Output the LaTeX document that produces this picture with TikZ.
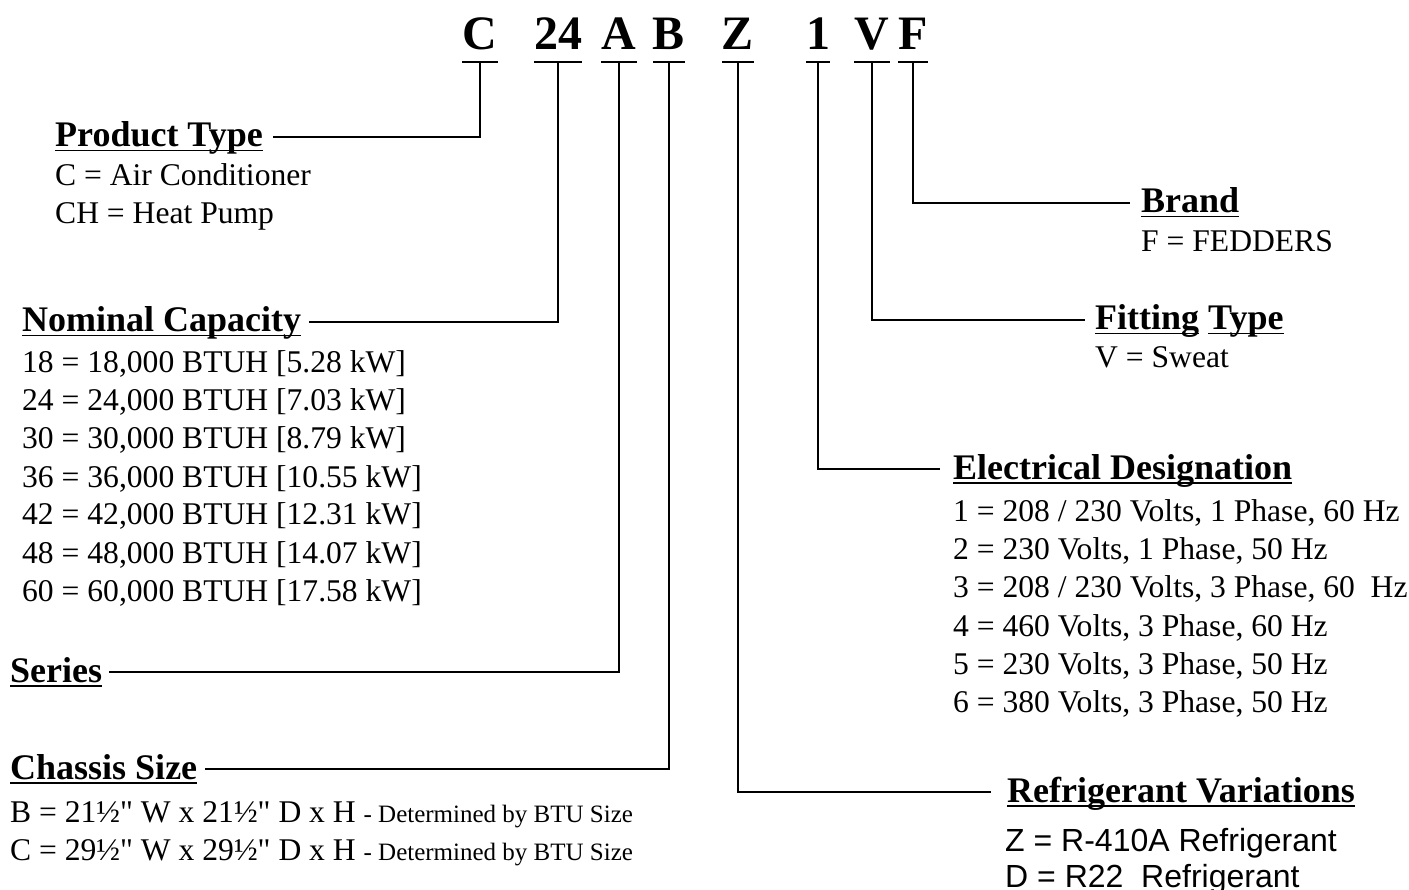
\documentclass[tikz,border=0pt]{standalone}
\usepackage{fontspec}
\setmainfont{Liberation Serif}
\newfontfamily\arialish{Liberation Sans}
\newcommand\undl[1]{\setbox0=\hbox{#1}\rlap{\rule[-4.5pt]{\wd0}{1.5pt}}\box0\relax}
\newcommand\inch{\XeTeXglyph\XeTeXcharglyph"22\relax}

\begin{document}
\begin{tikzpicture}[x=1pt,y=-1pt,
  code/.style={font=\fontsize{48}{48}\selectfont\bfseries, inner sep=0pt, anchor=base},
  head/.style={font=\fontsize{36}{40}\selectfont\bfseries, inner sep=0pt, anchor=base west},
  item/.style={font=\fontsize{31.6}{38}\selectfont, inner sep=0pt, anchor=base west},
  bar/.style={line width=2pt},
  lead/.style={line width=1.9pt},
  leadr/.style={line width=1.2pt}]
\useasboundingbox (0,0) rectangle (1409,890);

% model number letters with their bars
\foreach \n/\x in {C/480, 24/558, A/619, B/669, Z/738, 1/818, V/872, F/913}{
  \node[code] (c\n) at (\x,50) {\n};
  \draw[bar] ([yshift=-12pt]c\n.base west) -- ([yshift=-12pt]c\n.base east);
  \coordinate (t\n) at ([yshift=-12pt]c\n.base);
}

% left side
\node[head] (ptype) at (55,147) {\undl{Product Type}};
\node[item] (pt0) at (55,186) {C = Air Conditioner};
\node[item] (pt1) at (55,224) {CH = Heat Pump};

\node[head] (ncap) at (22,332) {\undl{Nominal Capacity}};
\foreach \t [count=\i from 0] in {{18 = 18,000 BTUH [5.28 kW]}, {24 = 24,000 BTUH [7.03 kW]},
  {30 = 30,000 BTUH [8.79 kW]}, {36 = 36,000 BTUH [10.55 kW]}, {42 = 42,000 BTUH [12.31 kW]},
  {48 = 48,000 BTUH [14.07 kW]}, {60 = 60,000 BTUH [17.58 kW]}}
  \node[item] (cap\i) at (22,{373+38*\i}) {\t};

\node[head] (series) at (10,682) {\undl{Series}};

\node[head] (chassis) at (10,779) {\undl{Chassis Size}};
\node[item] (ch0) at (10,822) {B = 21½\inch{} W x 21½\inch{} D x H {\fontsize{25}{30}\selectfont - Determined by BTU Size}};
\node[item] (ch1) at (10,860) {C = 29½\inch{} W x 29½\inch{} D x H {\fontsize{25}{30}\selectfont - Determined by BTU Size}};

% right side
\node[head] (brand) at (1141,213) {\undl{Brand}};
\node[item] (br0) at (1141,252) {F = FEDDERS};

\node[head] (fitting) at (1095,330) {\undl{Fitting} \undl{Type}};
\node[item] (ft0) at (1095,368) {V = Sweat};

\node[head] (elec) at (953,479) {\undl{Electrical Designation}};
\foreach \t [count=\i from 0] in {{1 = 208 / 230 Volts, 1 Phase, 60 Hz}, {2 = 230 Volts, 1 Phase, 50 Hz},
  {3 = 208 / 230 Volts, 3 Phase, 60\ \ Hz}, {4 = 460 Volts, 3 Phase, 60 Hz},
  {5 = 230 Volts, 3 Phase, 50 Hz}, {6 = 380 Volts, 3 Phase, 50 Hz}}
  \node[item] (el\i) at (953,{521.5+38.2*\i}) {\t};

\node[head] (refrig) at (1007,802) {\undl{Refrigerant Variations}};
\node[item, font=\arialish\fontsize{32}{38}\selectfont] (rf0) at (1005,851) {Z = R-410A Refrigerant};
\node[item, font=\arialish\fontsize{32}{38}\selectfont] (rf1) at (1005,887) {D = R22\ \ Refrigerant};

% leads
\draw[lead] (tC) |- ([shift={(10pt,10pt)}]ptype.base east);
\draw[lead] (t24) |- ([shift={(8pt,10pt)}]ncap.base east);
\draw[lead] (tA) |- ([shift={(7pt,10pt)}]series.base east);
\draw[lead] (tB) |- ([shift={(8pt,10pt)}]chassis.base east);
\draw[lead] (tZ) |- ([shift={(-16pt,10pt)}]refrig.base west);
\draw[leadr] (t1) |- ([shift={(-13pt,10pt)}]elec.base west);
\draw[leadr] (tV) |- ([shift={(-10pt,10pt)}]fitting.base west);
\draw[leadr] (tF) |- ([shift={(-11pt,10pt)}]brand.base west);
\end{tikzpicture}
\end{document}
